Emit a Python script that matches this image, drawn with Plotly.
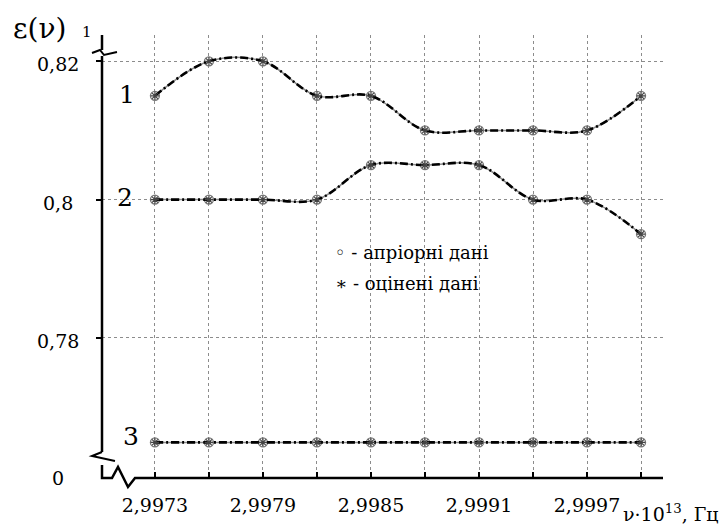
import plotly.graph_objects as go

# ---- data ----
freq = [2.9973, 2.9976, 2.9979, 2.9982, 2.9985, 2.9988, 2.9991, 2.9994, 2.9997, 3.0000]
x_tick_text = ["2,9973", "", "2,9979", "", "2,9985", "", "2,9991", "", "2,9997", ""]

eps1_apriori = [0.815, 0.820, 0.820, 0.815, 0.815, 0.810, 0.810, 0.810, 0.810, 0.815]
eps1_estimated = [0.815, 0.820, 0.820, 0.815, 0.815, 0.810, 0.810, 0.810, 0.810, 0.815]
eps2_apriori = [0.800, 0.800, 0.800, 0.800, 0.805, 0.805, 0.805, 0.800, 0.800, 0.795]
eps2_estimated = [0.800, 0.800, 0.800, 0.800, 0.805, 0.805, 0.805, 0.800, 0.800, 0.795]
# curve 3 sits below the axis break (displayed position on the broken scale)
eps3_apriori = [0.7649, 0.7649, 0.7649, 0.7649, 0.7649, 0.7649, 0.7649, 0.7649, 0.7649, 0.7649]
eps3_estimated = [0.7649, 0.7649, 0.7649, 0.7649, 0.7649, 0.7649, 0.7649, 0.7649, 0.7649, 0.7649]

y_tick_vals = [0.78, 0.80, 0.82]
y_tick_text = ["0,78", "0,8", "0,82"]
y_bottom_val = 0.75975  # shown as "0" (axis is broken)
y_top_val = 0.8238

OFF = 8  # page body margin of the browser
W, H = 728 - OFF, 530 - OFF
# plot area in reference-image pixels
RL, RR, RT, RB = 102, 663, 35, 478
SERIF = "DejaVu Serif"


def px(X):
    return (X - RL) / (RR - RL)


def py(Y):
    return (RB - Y) / (RB - RT)


fig = go.Figure()

series = [(eps1_apriori, eps1_estimated), (eps2_apriori, eps2_estimated), (eps3_apriori, eps3_estimated)]
for ap, est in series:
    fig.add_trace(go.Scatter(
        x=freq, y=ap, mode="lines+markers",
        line=dict(color="#8a8a8a", width=1.5, shape="spline", smoothing=1.0),
        marker=dict(symbol="circle-open", size=9, color="#777", line=dict(width=1.3)),
        showlegend=False, hoverinfo="skip"))
    fig.add_trace(go.Scatter(
        x=freq, y=est, mode="lines+markers",
        line=dict(color="black", width=2.6, shape="spline", smoothing=1.0, dash="8px,3px,2px,3px"),
        marker=dict(symbol="asterisk-open", size=7, color="#444", line=dict(width=1.2, color="#444")),
        showlegend=False, hoverinfo="skip"))

shapes = []
line_style = dict(color="black", width=2.5)
shapes.append(dict(type="line", xref="paper", yref="paper", x0=px(102), x1=px(102), y0=py(35), y1=py(50), line=line_style))
shapes.append(dict(type="path", xref="paper", yref="paper",
                   path=f"M {px(92)} {py(53)} L {px(100)} {py(50)} L {px(104)} {py(55)} L {px(117)} {py(52)}",
                   line=dict(color="black", width=2)))
shapes.append(dict(type="line", xref="paper", yref="paper", x0=px(102), x1=px(102), y0=py(56), y1=py(452), line=line_style))
shapes.append(dict(type="path", xref="paper", yref="paper",
                   path=f"M {px(102)} {py(452)} L {px(92)} {py(456)} L {px(115)} {py(461)}",
                   line=dict(color="black", width=2)))
shapes.append(dict(type="path", xref="paper", yref="paper",
                   path=(f"M {px(102)} {py(465)} L {px(102)} {py(478)} L {px(112)} {py(478)} "
                         f"L {px(118)} {py(467)} L {px(128)} {py(487)} L {px(135)} {py(478)} L {px(663)} {py(478)}"),
                   line=dict(color="black", width=2.5)))

annotations = []
for v, t in zip(y_tick_vals, y_tick_text):
    annotations.append(dict(x=px(58), y=v, xref="paper", yref="y", text=t, showarrow=False,
                            xanchor="center", yanchor="middle", yshift=-3,
                            font=dict(family=SERIF, size=19, color="black")))
annotations.append(dict(x=px(58), y=y_bottom_val, xref="paper", yref="y", text="0", showarrow=False,
                        xanchor="center", yanchor="middle",
                        font=dict(family=SERIF, size=19, color="black")))
annotations.append(dict(x=px(39), y=py(29), xref="paper", yref="paper", text="ε(ν)", showarrow=False,
                        xanchor="center", yanchor="middle", font=dict(family=SERIF, size=28, color="black")))
annotations.append(dict(x=px(87), y=py(32), xref="paper", yref="paper", text="1", showarrow=False,
                        xanchor="center", yanchor="middle", font=dict(family=SERIF, size=15, color="black")))
for lbl, xx, yy in [("1", 127, 94), ("2", 125, 198), ("3", 131, 436)]:
    annotations.append(dict(x=px(xx), y=py(yy), xref="paper", yref="paper", text=lbl, showarrow=False,
                            xanchor="center", yanchor="middle", font=dict(family=SERIF, size=25, color="black")))
annotations.append(dict(x=px(333), y=py(252), xref="paper", yref="paper", text="◦ - апріорні дані", showarrow=False,
                        xanchor="left", yanchor="middle", font=dict(family=SERIF, size=18, color="black")))
annotations.append(dict(x=px(333), y=py(283), xref="paper", yref="paper", text="∗ - оцінені дані", showarrow=False,
                        xanchor="left", yanchor="middle", font=dict(family=SERIF, size=18, color="black")))
annotations.append(dict(x=px(621), y=py(513), xref="paper", yref="paper",
                        text="ν·10<sup>13</sup>, Гц", showarrow=False,
                        xanchor="left", yanchor="middle", font=dict(family=SERIF, size=19, color="black")))

fig.update_layout(
    width=W, height=H,
    margin=dict(l=RL - OFF, r=W - (RR - OFF), t=RT - OFF, b=H - (RB - OFF), pad=0, autoexpand=False),
    paper_bgcolor="white", plot_bgcolor="white",
    shapes=shapes, annotations=annotations,
    showlegend=False,
)
fig.update_xaxes(
    range=[2.997006, 3.000122], tickvals=freq, ticktext=x_tick_text,
    ticks="inside", ticklen=6, tickwidth=2, tickcolor="black",
    showline=False, zeroline=False, automargin=False,
    showgrid=True, gridcolor="#8c8c8c", gridwidth=1, griddash="dot",
    tickfont=dict(family=SERIF, size=19, color="black"), ticklabelstandoff=14,
)
fig.update_yaxes(
    range=[y_bottom_val, y_top_val], tickvals=y_tick_vals, ticktext=["", "", ""],
    ticks="outside", ticklen=5, tickwidth=2, tickcolor="black",
    showline=False, zeroline=False, automargin=False,
    showgrid=True, gridcolor="#8c8c8c", gridwidth=1, griddash="dot",
)

fig.write_html("out.html")
